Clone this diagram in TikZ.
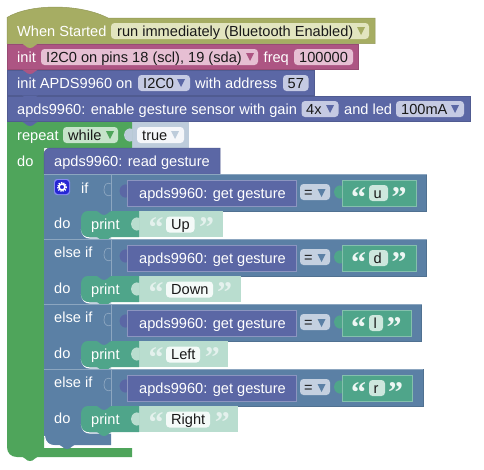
\documentclass[tikz,border=0pt]{standalone}
\usepackage{fontspec}
\setmainfont{Liberation Sans}
\newfontfamily\quotefont{Liberation Serif}
\usetikzlibrary{positioning}

\definecolor{hatcol}{HTML}{A6AD63}
\definecolor{hatfield}{HTML}{E2E5BF}
\definecolor{i2ccol}{HTML}{AD5583}
\definecolor{i2cfield}{HTML}{E6BFD3}
\definecolor{apdscol}{HTML}{5B67A5}
\definecolor{apdsfield}{HTML}{C5CAE3}
\definecolor{loopcol}{HTML}{4FA55B}
\definecolor{loopfield}{HTML}{C6E4CA}
\definecolor{ifcol}{HTML}{5B80A5}
\definecolor{iffield}{HTML}{C4D0E0}
\definecolor{ghostcol}{HTML}{BDCCDB}
\definecolor{textcol}{HTML}{4FA58A}
\definecolor{textfield}{HTML}{CDE7DD}
\definecolor{ghosttext}{HTML}{B9DDCF}

\tikzset{
  block/.style={fill=#1, draw=#1!88!black, line width=.5pt},
  field/.style={fill=#1, rounded corners=3.5pt},
  lbl/.style={anchor=base west, inner sep=0pt, text=white, font=\fontsize{14.6}{16}\selectfont},
  val/.style={lbl, text=black!90},
  quo/.style={anchor=base west, inner sep=0pt, text=#1, font=\quotefont\bfseries\fontsize{30}{30}\selectfont},
}

\newcommand{\ddarrow}[3]{\fill[#3] (#1-4,#2-4) -- (#1+4,#2-4) -- (#1,#2+4) -- cycle;}
\newcommand{\notch}[3]{\fill[#3] (#1-8,#2-.5) .. controls (#1-4,#2) and (#1-5,#2+4) .. (#1,#2+4) .. controls (#1+5,#2+4) and (#1+4,#2) .. (#1+8,#2-.5) -- cycle;}
\newcommand{\valuetab}[3]{\fill[#3] (#1+.5,#2) .. controls (#1-3,#2-2) and (#1-8,#2+1) .. (#1-8,#2+6) .. controls (#1-8,#2+11) and (#1-3,#2+14) .. (#1+.5,#2+12) -- cycle;}

\begin{document}
\begin{tikzpicture}[x=1pt,y=-1pt]
    \useasboundingbox (0,0) rectangle (484,469);
    %Top stack
    \draw[block=hatcol] (7,43.5) -- (7,17.5) .. controls (30,3.5) and (80,3.5) .. (108,18) -- (375,18) -- (375,43.5) -- cycle;
    \draw[block=i2ccol] (7,44.5) rectangle (358,69.5);
    \draw[block=apdscol] (7,70.5) rectangle (314,95.5);
    \draw[block=apdscol] (7,96.5) rectangle (470,121.5);
    \notch{30}{44}{hatcol}
    \notch{30}{70}{i2ccol}
    \notch{30}{96}{apdscol}
    %Repeat
    \draw[block=ghostcol,draw=none] (132,122) rectangle (189,148);
    \fill[loopcol] (7,122) -- (132,122) -- (132,148) -- (44,148) -- (44,448) -- (132,448) -- (132,457) -- (17,457) .. controls (11,457) and (7,453) .. (7,447) -- cycle;
    \valuetab{132}{129}{ghostcol}
    \notch{30}{122}{apdscol}
    \notch{30}{457}{loopcol}
    \path[field=hatfield] (111,23) rectangle (369,39);
    \path[field=i2cfield] (41,49) rectangle (258,65);
    \path[field=i2cfield] (294,49) rectangle (353,65);
    \path[field=apdsfield] (138,75) rectangle (190,91);
    \path[field=apdsfield] (283,75) rectangle (308.5,91);
    \path[field=apdsfield] (301.5,101) rectangle (338.5,117);
    \path[field=apdsfield] (396,101) rectangle (464,117);
    \path[field=loopfield] (63,127) rectangle (118,143);
    \path[field=white!85!ghostcol] (137,127) rectangle (184,143);
    \ddarrow{361}{31}{hatcol}
    \ddarrow{250}{57}{i2ccol}
    \ddarrow{181}{83}{apdscol}
    \ddarrow{330}{109}{apdscol}
    \ddarrow{455}{109}{apdscol}
    \ddarrow{110}{135}{loopcol}
    \ddarrow{175}{135}{ghostcol}
    \node[lbl] (whenstarted) at (17,36) {When Started};
    \node[val] (runmode) at (117,36) {run immediately (Bluetooth Enabled)};
    \node[lbl] (initbus) at (17,62) {init};
    \node[val] (buspins) at (46,62) {I2C0 on pins 18 (scl), 19 (sda)};
    \node[lbl] (freqlbl) at (263.5,62) {freq};
    \node[val] (freqval) at (299,62) {100000};
    \node[lbl] (initapds) at (17,88) {init APDS9960 on};
    \node[val] (apdsbus) at (143,88) {I2C0};
    \node[lbl] (addrlbl) at (195,88) {with address};
    \node[val] (addrval) at (287.5,88) {57};
    \node[lbl] (enablelbl) at (17,114) {apds9960: enable gesture sensor with gain};
    \node[val] (gainval) at (306,114) {4x};
    \node[lbl] (ledlbl) at (344,114) {and led};
    \node[val] (ledval) at (401,114) {100mA};
    \node[lbl] (repeatlbl) at (17,140) {repeat};
    \node[val] (whileval) at (68,140) {while};
    \node[val] (trueval) at (142,140) {true};
    \node[lbl] (dolbl) at (17,166) {do};
    %If block
    \fill[ifcol] (44,174) -- (111,174) -- (111,445) -- (54,445) .. controls (48,445) and (44,441) .. (44,435) -- cycle;
    \draw[white,line width=1pt] (44.5,436) .. controls (45,442) and (49,446) .. (55,446) -- (60,446);
    \notch{67}{445}{ifcol}
    \draw[block=apdscol] (44,174) -- (44,154) .. controls (44,151) and (47,148) .. (50,148) -- (220,148) -- (220,174) -- cycle;
    \node[lbl] (readlbl) at (54,166) {apds9960: read gesture};
    \notch{67}{174}{apdscol}
    %Rows
    \foreach \rowy/\ch/\fe/\qe/\be/\word/\pfe/\pqe/\pbe/\n in {
        174/u/388/391.5/426.5/Up/194.5/199/223/1,
        239/d/388/391.5/426.5/Down/213/217/241/2,
        304/l/383/386.5/421.5/Left/200/204.7/228/3,
        369/r/385/388/423/Right/210/214.7/238/4} {
        \fill[ifcol] (44,\rowy) rectangle (\be,\rowy+37);
        \draw[ifcol!88!black,line width=.5pt] (111,\rowy+37) -- (\be,\rowy+37) -- (\be,\rowy);
        \draw[white!30!ifcol,line width=.5pt] (44,\rowy+.3) -- (\be,\rowy+.3);
        \draw[white!30!ifcol,line width=.7pt] (111.5,\rowy) -- (111.5,\rowy+37);
        \draw[white!30!ifcol,line width=.7pt] (111.5,\rowy+10) .. controls (107,\rowy+8) and (104,\rowy+10) .. (104,\rowy+16) .. controls (104,\rowy+21) and (108,\rowy+23) .. (111.5,\rowy+21);
        %Get gesture
        \valuetab{127.5}{\rowy+11}{apdscol}
        \draw[block=apdscol,draw=white!30!apdscol] (127.5,\rowy+6) rectangle (296,\rowy+32);
        \node[lbl] (get\n) at (139,\rowy+24) {apds9960: get gesture};
        \path[field=iffield] (300,\rowy+10) rectangle (330,\rowy+26);
        \node[val] (eq\n) at (304,\rowy+23) {=};
        \ddarrow{321.5}{\rowy+19}{ifcol}
        %Text value
        \valuetab{342}{\rowy+12}{textcol}
        \draw[block=textcol,draw=white!30!textcol] (342,\rowy+6) rectangle (\be-10.5,\rowy+32);
        \node[quo=white!90!textcol] (open\n) at (351,\rowy+33) {“};
        \path[field=textfield] (369,\rowy+11) rectangle (\fe,\rowy+27);
        \node[val] (ch\n) at (373.5,\rowy+24) {\ch};
        \node[quo=white!90!textcol] (close\n) at (\qe,\rowy+33) {”};
        %Do part
        \fill[ifcol] (44,\rowy+37) rectangle (83,\rowy+65);
        \node[lbl] (do\n) at (54,\rowy+54) {do};
        \fill[ghosttext] (139,\rowy+37) rectangle (\pbe,\rowy+63);
        \draw[white,line width=1.2pt] (81.5,\rowy+55) .. controls (82,\rowy+61) and (85,\rowy+64) .. (90,\rowy+64) -- (112,\rowy+64);
        \fill[textcol] (88,\rowy+37) -- (96,\rowy+37) .. controls (99,\rowy+37) and (100,\rowy+41) .. (104,\rowy+41) .. controls (108,\rowy+41) and (109,\rowy+37) .. (112,\rowy+37) -- (139,\rowy+37) -- (139,\rowy+63) -- (112,\rowy+63) .. controls (109,\rowy+63) and (108,\rowy+67) .. (104,\rowy+67) .. controls (100,\rowy+67) and (99,\rowy+63) .. (96,\rowy+63) -- (89,\rowy+63) .. controls (84,\rowy+63) and (81,\rowy+60) .. (81,\rowy+55) -- (81,\rowy+45) .. controls (81,\rowy+40) and (84,\rowy+37) .. (88,\rowy+37) -- cycle;
        \valuetab{139}{\rowy+44}{ghosttext}
        \node[lbl] (print\n) at (91,\rowy+55) {print};
        \node[quo=white!85!textcol] (popen\n) at (148.5,\rowy+63) {“};
        \path[field=white!85!ghosttext] (166,\rowy+42.5) rectangle (\pfe,\rowy+58.5);
        \node[val] (word\n) at (171,\rowy+55) {\word};
        \node[quo=white!85!textcol] (pclose\n) at (\pqe,\rowy+63) {”};
    }
    %Row labels
    \node[lbl] (iflbl) at (81,193) {if};
    \foreach \rowy/\n in {239/2,304/3,369/4} {
        \node[lbl] (elseif\n) at (54,\rowy+18) {else if};
    }
    %Gear
    \fill[white!55!blue!85!ifcol,rounded corners=3pt] (54,179) rectangle (70,195);
    \fill[blue!80!black!85!white,rounded corners=3pt] (55,180) rectangle (69,194);
    \draw[white,line width=1.6pt] (62,187) circle (3);
    \draw[white,line width=1.3pt,dash pattern=on 1.3pt off 1.1pt] (62,187) circle (4.4);
\end{tikzpicture}
\end{document}
